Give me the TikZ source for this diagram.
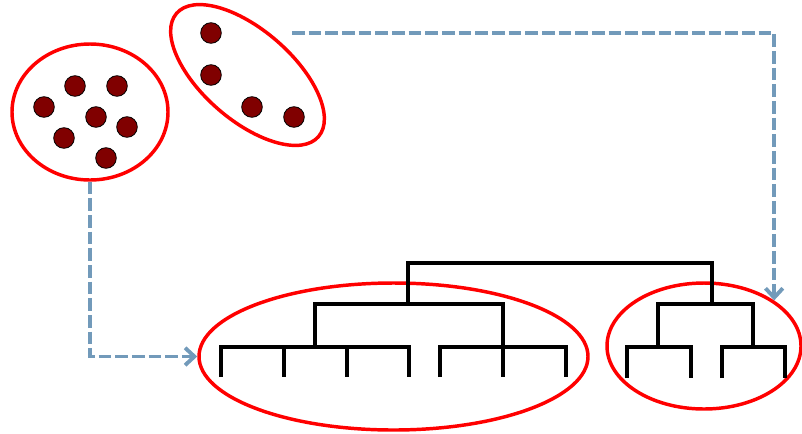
\documentclass[tikz,border=0pt]{standalone}
\usepackage{tikz}
\usetikzlibrary{positioning,arrows.meta,shapes.geometric}
\definecolor{flowblue}{RGB}{114,154,186}
\definecolor{dotred}{RGB}{128,0,0}

\begin{document}
\begin{tikzpicture}[
      x=0.75pt, y=-0.75pt,
      cluster/.style={draw=red, ellipse, line width=2.6pt, inner sep=0pt},
      dot/.style={circle, draw=black, line width=0.6pt, fill=dotred, minimum size=15.5pt, inner sep=0pt},
      tree/.style={draw=black, line width=2.5pt},
      flow/.style={draw=flowblue, line width=2.9pt, dash pattern=on 9.5pt off 3pt,
                   -{Straight Barb[length=7pt, width=13pt]}}
    ]
    \useasboundingbox (0,0) rectangle (802,433);
    % point clusters
    \node[cluster, minimum width=117pt, minimum height=102pt] (clusterA) at (90,112) {};
    \node[cluster, rotate=-41, minimum width=141pt, minimum height=67.5pt] (clusterB) at (247.5,75) {};
    \foreach \p [count=\i] in {(75,86),(117,86),(44,107),(96,117),(127,127),(64,138),(106,158)}
      \node[dot] (a\i) at \p {};
    \foreach \p [count=\i] in {(211,33),(211,75),(252,107),(294,117)}
      \node[dot] (b\i) at \p {};
    % dendrogram groups
    \node[cluster, minimum width=291.75pt, minimum height=110.25pt] (bigTree) at (393.5,356.5) {};
    \node[cluster, minimum width=145.5pt, minimum height=94.5pt] (smallTree) at (704,346) {};
    % dendrogram
    \draw[tree] (221,377) |- (409,347) -- (409,377);
    \foreach \x in {284,347} \draw[tree] (\x,347) -- (\x,377);
    \draw[tree] (440,377) |- (566,347) -- (566,377);
    \draw[tree] (315,347) |- (503,304) -- (503,377);
    \draw[tree] (408,304) |- (712,263) -- (712,304);
    \draw[tree] (658,347) |- (753,304) -- (753,347);
    \draw[tree] (627,378) |- (691,347) -- (691,378);
    \draw[tree] (722,378) |- (785,347) -- (785,378);
    % edges
    \coordinate (outB) at (292,33);
    \draw[flow] (clusterA.south) |- (bigTree.west);
    \draw[flow] (outB) -| (smallTree.33);
  \end{tikzpicture}
\end{document}
